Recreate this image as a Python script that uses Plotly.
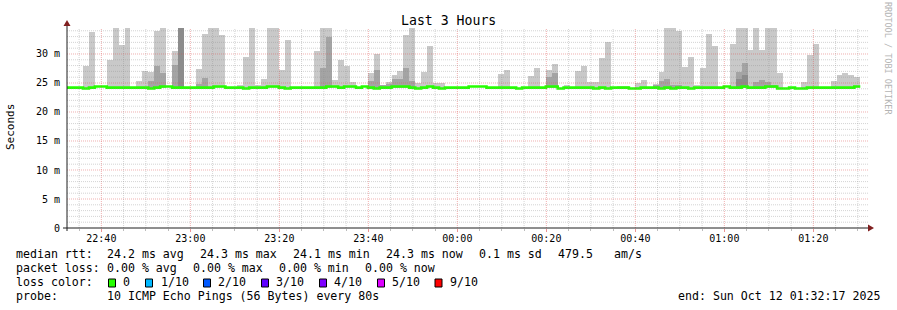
import plotly.graph_objects as go
from datetime import datetime, timedelta

# ---------------- data ----------------
STEP_S = 80
first_step = datetime(2025, 10, 11, 22, 31, 53)
range_start = datetime(2025, 10, 11, 22, 32, 17)
range_end = datetime(2025, 10, 12, 1, 32, 17)

N = None
# outer smoke (max ping, ms) per 80 s step
smoke_max = [
    N, N, N, 27.9, 33.8, N, N, 29.0, 35, 31.6,
    35, N, 25.3, 27.1, 26.9, 34.0, 35, N, 30.6, 35,
    N, N, 27.4, 33.4, 35, 35, 33.3, N, N, 24.7,
    29.5, 35, 24.6, 25.7, 35, 35, 27.2, 32.4, N, N,
    N, N, 30.6, 35, 35, 25.5, 29.0, 28.0, 25.2, N,
    N, 26.8, 30.0, 24.6, 25.1, 26.4, 27.1, 33.2, 35, 25.0,
    26.9, 31.4, 25.0, 25.0, N, N, N, N, N, N,
    N, N, N, 26.6, 27.2, N, N, N, 26.2, 27.5,
    N, 27.2, 28.2, N, 24.6, N, 27.0, 27.9, 25.1, 25.2,
    29.3, 32.1, N, 24.5, 24.5, N, 25.0, 25.5, N, 24.8,
    26.9, 35, 35, 33.9, 27.8, 29.4, 24.7, 27.5, 33.4, 31.4,
    N, N, 31.7, 35, 35, 30.7, 35, 30.7, 35, 35,
    26.8, N, N, N, 25.2, 29.8, 31.7, N, N, 25.3,
    26.3, 26.8, 26.4, 26.0, N, N,
]
# inner smoke (darker), step index -> top (ms)
mid_idx = [14, 15, 16, 18, 19, 22, 23, 43, 44, 51, 52, 53, 54, 55, 56, 57, 58,
           81, 82, 99, 100, 101, 102, 103, 113, 114, 116, 117, 118, 119]
mid_val = [25.3, 27.9, 26.8, 28.1, 35, 24.9, 25.9, 27.5, 33.0, 25.4, 27.2, 24.6, 24.9,
           25.7, 25.7, 27.5, 25.4, 26.1, 26.8, 24.6, 25.3, 25.7, 24.6, 24.7, 26.9,
           28.4, 25.2, 25.5, 25.2, 24.6]
dark_idx = [19, 113, 114]
dark_val = [35, 25.7, 26.4]
smoke_floor = 24.1

# median rtt (ms) per step
median_rtt = [
    24.2, 24.2, 24.2, 24.05, 24.2, 24.4, 24.4, 24.2, 24.2, 24.2,
    24.2, 24.2, 24.2, 24.2, 24.05, 24.2, 24.4, 24.4, 24.2, 24.2,
    24.2, 24.2, 24.2, 24.2, 24.2, 24.4, 24.4, 24.2, 24.2, 24.2,
    24.05, 24.2, 24.2, 24.2, 24.4, 24.4, 24.2, 24.05, 24.2, 24.2,
    24.2, 24.2, 24.2, 24.2, 24.4, 24.4, 24.2, 24.4, 24.4, 24.2,
    24.4, 24.2, 24.05, 24.2, 24.2, 24.4, 24.4, 24.4, 24.2, 24.05,
    24.2, 24.4, 24.2, 24.05, 24.2, 24.2, 24.2, 24.2, 24.4, 24.4,
    24.4, 24.2, 24.2, 24.2, 24.2, 24.2, 24.05, 24.2, 24.2, 24.2,
    24.2, 24.4, 24.4, 24.05, 24.2, 24.2, 24.2, 24.2, 24.2, 24.05,
    24.2, 24.05, 24.2, 24.2, 24.2, 24.05, 24.05, 24.2, 24.2, 24.2,
    24.05, 24.2, 24.05, 24.2, 24.2, 24.05, 24.2, 24.2, 24.2, 24.2,
    24.2, 24.4, 24.2, 24.2, 24.4, 24.2, 24.2, 24.2, 24.4, 24.4,
    24.05, 24.05, 24.2, 24.05, 24.05, 24.2, 24.2, 24.2, 24.2, 24.2,
    24.2, 24.2, 24.2, 24.4,
]

y_tick_vals = [0, 5, 10, 15, 20, 25, 30]
y_tick_text = ["0", "5 m", "10 m", "15 m", "20 m", "25 m", "30 m"]
y_max = 34.48

loss_labels = ["0", "1/10", "2/10", "3/10", "4/10", "5/10", "9/10"]
loss_colors = ["#26ff00", "#00b8ff", "#0059ff", "#5e00ff", "#7e00ff", "#dd00ff", "#ff0000"]

legend_rtt = ["median rtt:", "24.2 ms avg", "24.3 ms max", "24.1 ms min", "24.3 ms now",
              "0.1 ms sd", "479.5", "am/s"]
legend_loss = ["packet loss:", "0.00 % avg", "0.00 % max", "0.00 % min", "0.00 % now"]
probe_text = "10 ICMP Echo Pings (56 Bytes) every 80s"
end_text = "end: Sun Oct 12 01:32:17 2025"
title_text = "Last 3 Hours"

# ---------------- layout geometry (pixels) ----------------
W, H = 897, 310
PL, PR, PT, PB = 67, 868, 28, 228
MONO = "DejaVu Sans Mono"


def xp(px):
    return (px - PL) / (PR - PL)


def yp(py):
    return (PB - py) / (PB - PT)


def step_start(i):
    return first_step + timedelta(seconds=STEP_S * i)


def step_center(i):
    return first_step + timedelta(seconds=STEP_S * i + STEP_S / 2)


fig = go.Figure()

# light smoke
lx = [step_center(i) for i, v in enumerate(smoke_max) if v is not None]
lh = [v - smoke_floor for v in smoke_max if v is not None]
fig.add_trace(go.Bar(x=lx, y=lh, base=smoke_floor, width=STEP_S * 1000,
                     marker=dict(color="#c9c9c9", line_width=0), hoverinfo="skip"))
# mid smoke
fig.add_trace(go.Bar(x=[step_center(i) for i in mid_idx],
                     y=[v - smoke_floor for v in mid_val], base=smoke_floor,
                     width=STEP_S * 1000,
                     marker=dict(color="#a4a4a4", line_width=0), hoverinfo="skip"))
# dark smoke
fig.add_trace(go.Bar(x=[step_center(i) for i in dark_idx],
                     y=[v - smoke_floor for v in dark_val], base=smoke_floor,
                     width=STEP_S * 1000,
                     marker=dict(color="#8c8c8c", line_width=0), hoverinfo="skip"))
# median line
mx = [step_start(i) for i in range(len(median_rtt) + 1)]
my = median_rtt + [median_rtt[-1]]
fig.add_trace(go.Scatter(x=mx, y=my, mode="lines", line=dict(color="#26ff00", width=2.6, shape="hv"),
                         hoverinfo="skip"))

shapes = []
# grid on top of the smoke (rrdtool style)
minor_col = "rgba(143,143,143,0.38)"
major_col = "rgba(222,79,79,0.45)"
t = datetime(2025, 10, 11, 22, 35, 0)
while t < range_end:
    major = (t.minute % 20 == 0)
    shapes.append(dict(type="line", xref="x", yref="paper", x0=t, x1=t, y0=0, y1=1,
                       line=dict(color=major_col if major else minor_col, width=1, dash="1px,1px"),
                       layer="above"))
    t += timedelta(minutes=5)
for v in range(1, 35):
    major = (v % 5 == 0)
    shapes.append(dict(type="line", xref="paper", yref="y", x0=0, x1=1, y0=v, y1=v,
                       line=dict(color=major_col if major else minor_col, width=1, dash="1px,1px"),
                       layer="above"))

axis_col = "#1f1f1f"
arrow_col = "#801f1f"
shapes.append(dict(type="line", xref="paper", yref="paper", x0=xp(63), x1=xp(868), y0=0, y1=0,
                   line=dict(color=axis_col, width=1), layer="above"))
shapes.append(dict(type="line", xref="paper", yref="paper", x0=0, x1=0, y0=yp(231), y1=yp(24),
                   line=dict(color=axis_col, width=1), layer="above"))
shapes.append(dict(type="path", xref="paper", yref="paper",
                   path=f"M {xp(67)} {yp(20)} L {xp(63.5)} {yp(26)} L {xp(70.5)} {yp(26)} Z",
                   fillcolor=arrow_col, line=dict(width=0), layer="above"))
shapes.append(dict(type="path", xref="paper", yref="paper",
                   path=f"M {xp(874)} {yp(228)} L {xp(868)} {yp(224.5)} L {xp(868)} {yp(231.5)} Z",
                   fillcolor=arrow_col, line=dict(width=0), layer="above"))

annotations = []


def txt(s, x, y, size=11.6, xanchor="left", color="black", angle=0):
    annotations.append(dict(text=s.replace(" ", "\u00a0"), x=xp(x), y=yp(y), xref="paper", yref="paper",
                            showarrow=False, xanchor=xanchor, yanchor="middle", textangle=angle,
                            borderpad=0, borderwidth=0,
                            font=dict(family=MONO, size=size, color=color)))


txt(title_text, 448, 20.5, size=13.2, xanchor="center")
txt("Seconds", 10, 127, size=11, xanchor="center", angle=-90)
txt("RRDTOOL / TOBI OETIKER", 888, 58, size=8.5, xanchor="center", color="#b4b4b4", angle=90)

rtt_x = [16, 107, 200, 293, 386, 479, 558, 614]
for s, x in zip(legend_rtt, rtt_x):
    txt(s, x, 254)
loss_x = [16, 107, 193, 279, 365]
for s, x in zip(legend_loss, loss_x):
    txt(s, x, 268)
txt("loss color:", 16, 282)
sq_x = [108.5, 145.5, 203.5, 261.5, 319.5, 377.5, 435]
lab_x = [123, 160.5, 218, 276, 334, 392, 450]
for lab, col, sx, lx_ in zip(loss_labels, loss_colors, sq_x, lab_x):
    shapes.append(dict(type="rect", xref="paper", yref="paper", x0=xp(sx), x1=xp(sx + 7),
                       y0=yp(287), y1=yp(279), fillcolor=col, line=dict(color="black", width=1)))
    txt(lab, lx_, 282)
txt("probe:", 16, 296)
txt(probe_text, 107, 296)
txt(end_text, 880, 296, xanchor="right")

fig.update_layout(
    width=W, height=H,
    margin=dict(l=PL, r=W - PR, t=PT, b=H - PB, pad=0),
    paper_bgcolor="white", plot_bgcolor="white",
    showlegend=False, barmode="overlay", bargap=0,
    font=dict(family=MONO, size=10, color="black"),
    shapes=shapes, annotations=annotations,
)
fig.update_xaxes(type="date", range=[range_start, range_end], showgrid=False, zeroline=False,
                 showline=False, tickformat="%H:%M", dtick=20 * 60 * 1000,
                 tick0="2025-10-11 22:40:00", ticks="outside", ticklen=3,
                 tickcolor="rgba(222,79,79,0.6)", ticklabelstandoff=-2,
                 tickfont=dict(family=MONO, size=10, color="black"),
                 minor=dict(dtick=5 * 60 * 1000, tick0="2025-10-11 22:35:00", ticks="outside",
                            ticklen=2, tickcolor="rgba(143,143,143,0.6)", showgrid=False))
fig.update_yaxes(range=[0, y_max], tickvals=y_tick_vals, ticktext=y_tick_text, showgrid=False,
                 zeroline=False, showline=False, ticks="outside", ticklen=4,
                 tickcolor="rgba(0,0,0,0)",
                 tickfont=dict(family=MONO, size=10, color="black"))

fig.write_html("out.html")
